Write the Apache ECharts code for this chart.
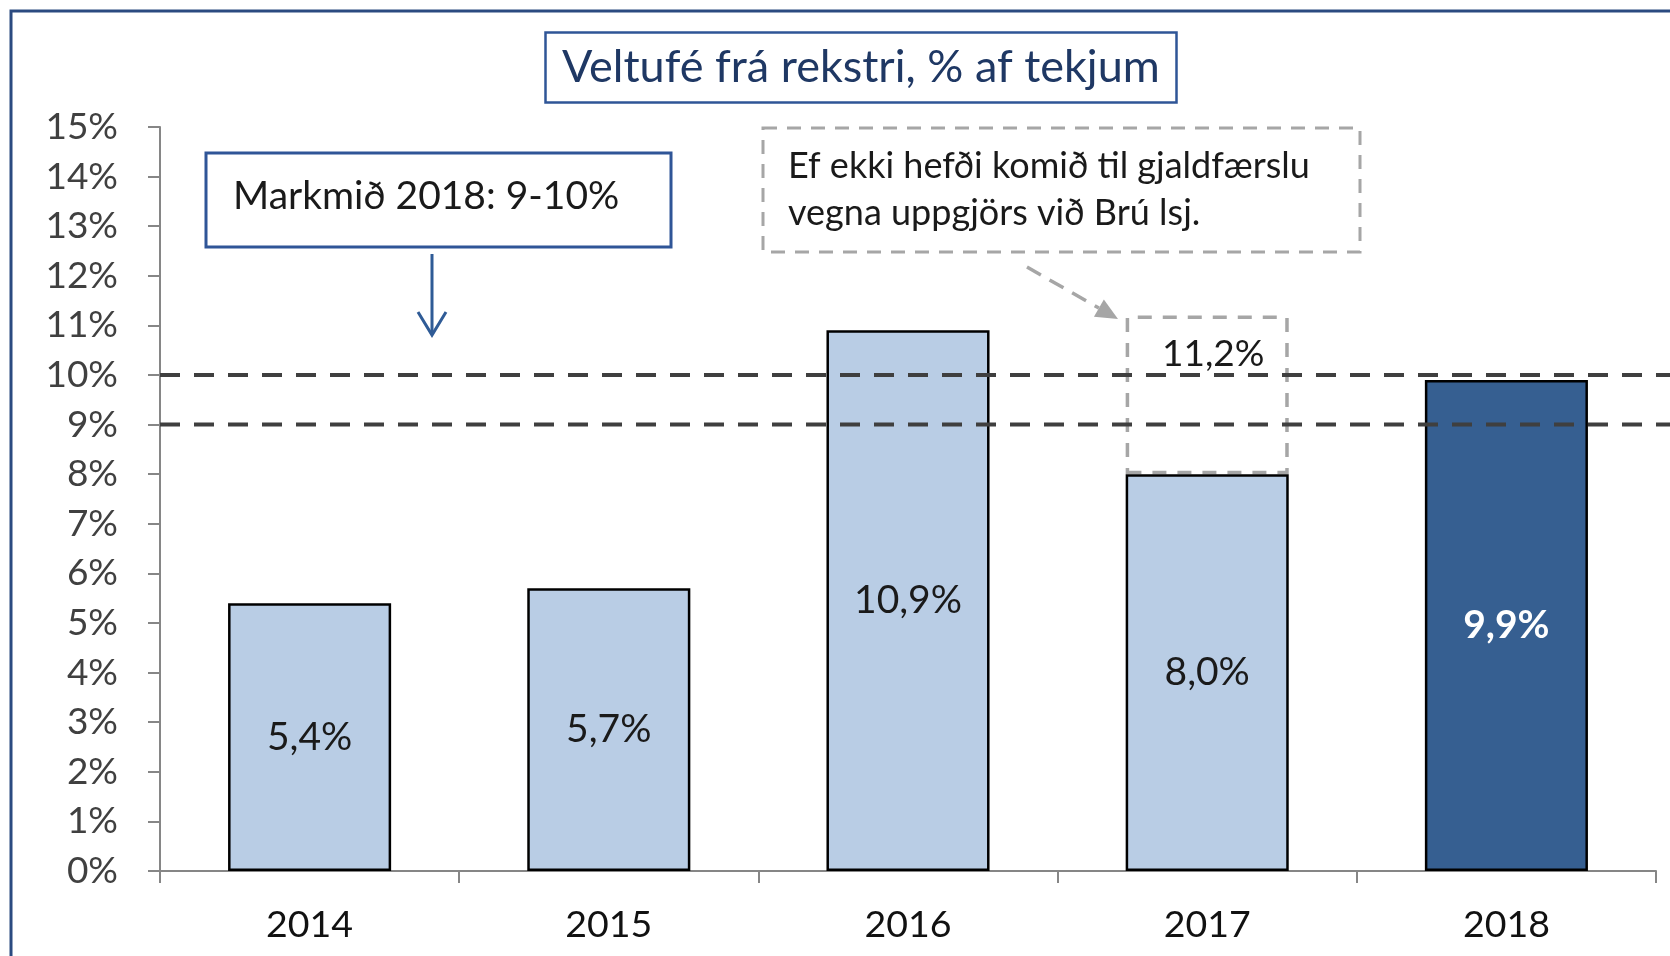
<!DOCTYPE html>
<html>
<head>
<meta charset="utf-8">
<script src="https://cdn.jsdelivr.net/npm/echarts@6/dist/echarts.min.js"></script>
<style>
html,body{margin:0;padding:0;background:#fff;}
#main{width:1670px;height:956px;}
</style>
</head>
<body>
<div id="main"></div>
<script>
const categories = ['2014', '2015', '2016', '2017', '2018'];
const values = [5.4, 5.7, 10.9, 8.0, 9.9];
const adjustedValues = [null, null, null, 11.2, null];
const highlightIndex = 4;
const targetLow = 9;
const targetHigh = 10;
const yMin = 0, yMax = 15, yStep = 1;
const titleText = 'Veltufé frá rekstri, % af tekjum';
const targetText = 'Markmið 2018: 9-10%';
const noteLines = ['Ef ekki hefði komið til gjaldfærslu', 'vegna uppgjörs við Brú lsj.'];

const FONT = 'Lato';
const fmt = v => v.toFixed(1).replace('.', ',') + '%';

const chart = echarts.init(document.getElementById('main'), null, {renderer: 'canvas'});

const mainData = values.map((v, i) => ({
  value: v,
  itemStyle: { color: i === highlightIndex ? '#365f91' : '#b9cde5' },
  label: i === highlightIndex ? { color: '#ffffff', fontWeight: 'bold' } : {}
}));
const ghostData = adjustedValues.map((a, i) => a == null ? '-' : +(a - values[i]).toFixed(2));

const option = {
  animation: false,
  backgroundColor: '#ffffff',
  title: {
    text: titleText,
    left: 545, top: 32,
    padding: [13, 17],
    borderColor: '#2f5597', borderWidth: 2.5,
    backgroundColor: '#ffffff',
    textStyle: { fontFamily: FONT, fontSize: 45, fontWeight: 'normal', color: '#1f3864', lineHeight: 45 }
  },
  grid: { left: 160, right: 14, top: 127, bottom: 85, containLabel: false },
  xAxis: {
    type: 'category',
    data: categories,
    axisLine: { lineStyle: { color: '#868686', width: 2 } },
    axisTick: { show: true, length: 12, alignWithLabel: false, lineStyle: { color: '#868686', width: 2 } },
    axisLabel: { fontFamily: FONT, fontSize: 37.5, color: '#111111', margin: 35 }
  },
  yAxis: {
    type: 'value',
    min: yMin, max: yMax, interval: yStep,
    axisLine: { show: true, lineStyle: { color: '#868686', width: 2 } },
    axisTick: { show: true, inside: false, length: 12, lineStyle: { color: '#868686', width: 2 } },
    splitLine: { show: false },
    axisLabel: { fontFamily: FONT, fontSize: 37, color: '#404040', margin: 42, formatter: '{value}%' }
  },
  series: [
    {
      type: 'bar',
      stack: 'v',
      data: mainData,
      barWidth: '54.5%',
      z: 3,
      itemStyle: { borderColor: '#000000', borderWidth: 2.5 },
      label: {
        show: true, position: 'inside',
        fontFamily: FONT, fontSize: 39, color: '#1a1a1a',
        formatter: p => fmt(p.value)
      }
    },
    {
      type: 'bar',
      stack: 'v',
      data: ghostData,
      barWidth: '54.5%',
      z: 2,
      itemStyle: { color: 'rgba(0,0,0,0)', borderColor: '#a6a6a6', borderWidth: 3.5, borderType: [14, 11] },
      label: {
        show: true, position: 'insideTop', distance: 20, offset: [6, 0],
        fontFamily: FONT, fontSize: 37, color: '#1a1a1a',
        formatter: p => adjustedValues[p.dataIndex] == null ? '' : fmt(adjustedValues[p.dataIndex])
      }
    }
  ]
};
chart.setOption(option);

// target lines via the axis scale
const yLow = chart.convertToPixel({ yAxisIndex: 0 }, targetLow);
const yHigh = chart.convertToPixel({ yAxisIndex: 0 }, targetHigh);
const gridLeft = 160;

const dashStyle = { stroke: '#3f3f3f', lineWidth: 4, lineDash: [20, 14] };

// gray arrow geometry
const aS = [1027, 267], aT = [1118, 319];
const dx = aT[0] - aS[0], dy = aT[1] - aS[1], L = Math.hypot(dx, dy);
const ux = dx / L, uy = dy / L, hl = 22, hw = 10;
const bx = aT[0] - ux * hl, by = aT[1] - uy * hl;

chart.setOption({
  graphic: [
    { type: 'rect', z: 100, silent: true, shape: { x: 11, y: 11, width: 1720, height: 1000 },
      style: { fill: 'none', stroke: '#2b4a80', lineWidth: 3 } },
    { type: 'line', z: 50, silent: true, shape: { x1: gridLeft, y1: yHigh, x2: 1670, y2: yHigh }, style: dashStyle },
    { type: 'line', z: 50, silent: true, shape: { x1: gridLeft, y1: yLow, x2: 1670, y2: yLow }, style: dashStyle },
    // target box
    { type: 'rect', shape: { x: 206, y: 153, width: 465, height: 94 },
      style: { fill: '#ffffff', stroke: '#2f5597', lineWidth: 3 } },
    { type: 'text', x: 233, y: 196,
      style: { text: targetText, font: '39px ' + FONT, fill: '#1a1a1a', verticalAlign: 'middle', align: 'left' } },
    // blue arrow
    { type: 'line', shape: { x1: 432, y1: 254, x2: 432, y2: 334 }, style: { stroke: '#2f5b96', lineWidth: 3 } },
    { type: 'polyline', shape: { points: [[418, 312], [432, 335], [446, 312]] }, style: { stroke: '#2f5b96', lineWidth: 3, fill: 'none' } },
    // note box
    { type: 'rect', shape: { x: 763, y: 128, width: 597, height: 124 },
      style: { fill: 'none', stroke: '#a6a6a6', lineWidth: 3, lineDash: [14, 10] } },
    { type: 'text', x: 788, y: 166,
      style: { text: noteLines[0], font: '36px ' + FONT, fill: '#1a1a1a', verticalAlign: 'middle', align: 'left' } },
    { type: 'text', x: 788, y: 213,
      style: { text: noteLines[1], font: '36px ' + FONT, fill: '#1a1a1a', verticalAlign: 'middle', align: 'left' } },
    // gray dashed arrow
    { type: 'line', shape: { x1: aS[0], y1: aS[1], x2: bx, y2: by }, style: { stroke: '#a6a6a6', lineWidth: 3.5, lineDash: [16, 10] } },
    { type: 'polygon', shape: { points: [[aT[0], aT[1]], [bx - uy * hw, by + ux * hw], [bx + uy * hw, by - ux * hw]] },
      style: { fill: '#a6a6a6' } }
  ]
});
</script>
</body>
</html>
